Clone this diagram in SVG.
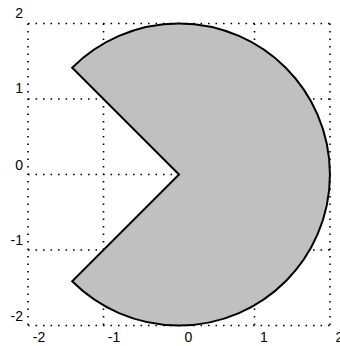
<svg xmlns="http://www.w3.org/2000/svg" width="340" height="346" viewBox="0 0 340 346">
<style>
.grid line{stroke:#000;stroke-width:1.6;stroke-dasharray:1.6 5.9;fill:none}
.lbl{font-family:"Liberation Sans",Arial,sans-serif;font-size:14px;fill:#000}
.yl{text-anchor:end}
.xl{text-anchor:middle}
</style>
<rect width="340" height="346" fill="#fff"/>
<g id="grid" class="grid">
<line x1="28" y1="23.5" x2="28" y2="325.5"/>
<line x1="103.5" y1="23.5" x2="103.5" y2="325.5"/>
<line x1="179" y1="23.5" x2="179" y2="325.5"/>
<line x1="254.5" y1="23.5" x2="254.5" y2="325.5"/>
<line x1="330" y1="23.5" x2="330" y2="325.5"/>
<line x1="28" y1="23.5" x2="330" y2="23.5"/>
<line x1="28" y1="99" x2="330" y2="99"/>
<line x1="28" y1="174.5" x2="330" y2="174.5"/>
<line x1="28" y1="250" x2="330" y2="250"/>
<line x1="28" y1="325.5" x2="330" y2="325.5"/>
</g>
<g id="pacman">
<path d="M179,174.5 L72.2,67.7 A151,151 0 1 1 72.2,281.3 Z" fill="#c0c0c0" stroke="#000" stroke-width="2" stroke-linejoin="miter"/>
</g>
<g id="ylabels" class="lbl">
<text class="lbl yl" x="23" y="17.5">2</text>
<text class="lbl yl" x="23" y="93">1</text>
<text class="lbl yl" x="23" y="170">0</text>
<text class="lbl yl" x="23" y="245">-1</text>
<text class="lbl yl" x="23" y="321">-2</text>
</g>
<g id="xlabels">
<text class="lbl xl" x="39" y="342">-2</text>
<text class="lbl xl" x="114" y="342">-1</text>
<text class="lbl xl" x="188.5" y="342">0</text>
<text class="lbl xl" x="264" y="342">1</text>
<text class="lbl xl" x="339.5" y="342">2</text>
</g>
</svg>
